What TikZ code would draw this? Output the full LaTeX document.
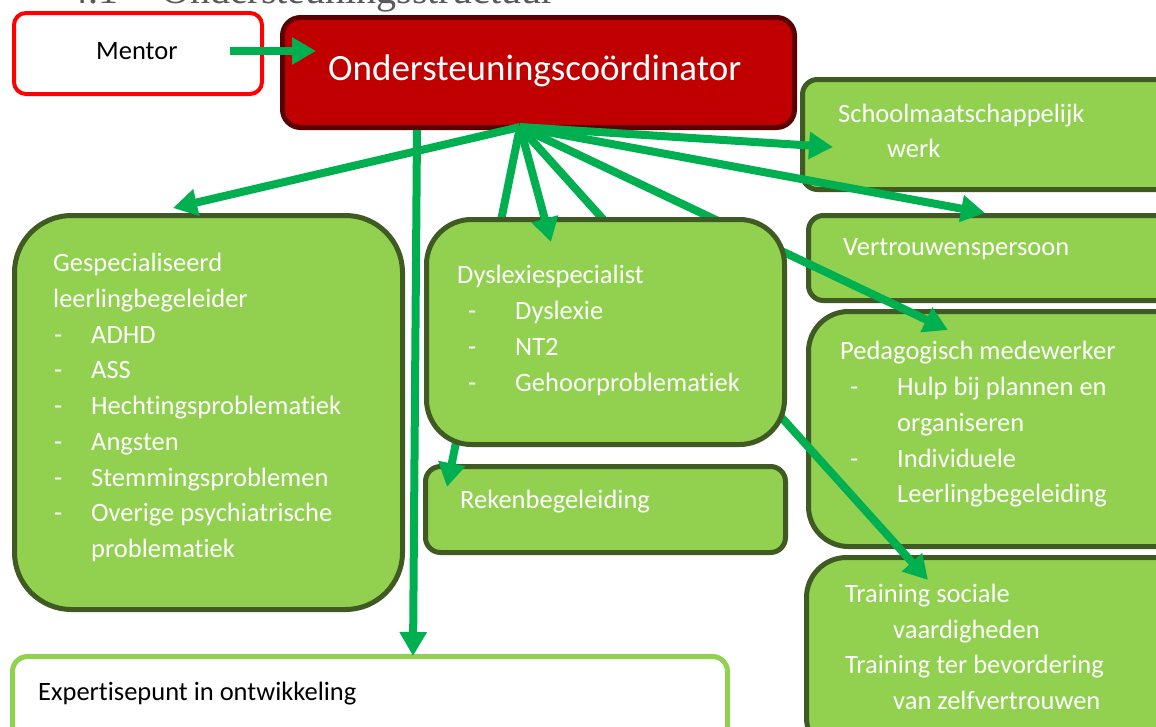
\documentclass[tikz,border=0pt]{standalone}
\usepackage{fontspec}
\setmainfont{Carlito}[Ligatures=NoCommon]
\newfontfamily\headfont{Liberation Serif}
\usetikzlibrary{arrows.meta}
\definecolor{boxgreen}{HTML}{92D050}
\definecolor{boxedge}{HTML}{3F5A22}
\definecolor{arrowgreen}{HTML}{00B050}
\definecolor{coordfill}{HTML}{C00000}
\definecolor{coordedge}{HTML}{5A0000}
\definecolor{headgray}{HTML}{595959}
\tikzset{
  box/.style={draw=boxedge, fill=boxgreen, line width=5pt, inner sep=0pt, anchor=north west, shape=rectangle},
  txt/.style={anchor=base west, inner sep=0pt, text=white, font=\fontsize{26.5}{32}\selectfont},
  btxt/.style={txt, text=black},
  arr/.style={draw=arrowgreen, line width=8pt, -{Triangle[length=24pt,width=26pt]}},
}
\begin{document}
\begin{tikzpicture}[x=1pt,y=-1pt]
\useasboundingbox (0,0) rectangle (1156,726);
\clip (0,0) rectangle (1156,726);
\fill[white] (0,0) rectangle (1156,726);

% cut-off heading
\node[anchor=base west, inner sep=0pt, text=headgray, font=\headfont\fontsize{40}{44}\selectfont] (hnum) at (68,3) {4.1};
\node[anchor=base west, inner sep=0pt, text=headgray, font=\headfont\fontsize{40}{44}\selectfont] (htitle) at (161,3) {Ondersteuningsstructuur};

% boxes
\node[box, draw=red, fill=white, line width=4pt, rounded corners=12pt, minimum width=248pt, minimum height=81pt] (mentor) at (12,11) {};
\node[box, draw=coordedge, fill=coordfill, rounded corners=18pt, minimum width=512pt, minimum height=110pt] (coord) at (280,15) {};
\node[box, rounded corners=15pt, minimum width=400pt, minimum height=110pt] (smw) at (800,77) {};
\node[box, rounded corners=15pt, minimum width=400pt, minimum height=85pt] (vertr) at (806,213) {};
\node[box, rounded corners=40pt, minimum width=400pt, minimum height=235pt] (ped) at (806,309) {};
\node[box, rounded corners=40pt, minimum width=400pt, minimum height=200pt] (train) at (804,555) {};
\node[box, rounded corners=57pt, minimum width=388pt, minimum height=394pt] (gesp) at (12,213) {};
\node[box, rounded corners=15pt, minimum width=360pt, minimum height=86pt] (reken) at (423,464) {};
\node[box, draw=boxgreen, fill=white, rounded corners=15pt, minimum width=715pt, minimum height=100pt] (exp) at (10,654) {};

% connector points
\coordinate (hub) at (520,127);
\coordinate (vtop) at (417,130);
\coordinate (mstart) at (230,51);
\coordinate (tmentor) at (316,51);
\coordinate (tgesp) at (173,208);
\coordinate (tdys) at (551,242);
\coordinate (treken) at (447,487);
\coordinate (tped) at (948,330);
\coordinate (ttrain) at (928,580);
\coordinate (tsmw) at (833,147);
\coordinate (tvertr) at (985,213);
\coordinate (texp) at (413,656);

% arrows passing behind the Dyslexie box
\draw[arr] (hub) -- (treken);
\draw[arr] (hub) -- (tped);
\draw[arr] (hub) -- (ttrain);

\node[box, rounded corners=45pt, minimum width=358pt, minimum height=225pt] (dys) at (424,217) {};

% texts
\node[btxt] (tmen) at (96,59) {Mentor};
\node[txt, font=\fontsize{37}{44}\selectfont] (tcoord) at (328,80) {Ondersteuningscoördinator};

\node[txt] (g1) at (53,271) {Gespecialiseerd};
\node[txt] (g2) at (53,307) {leerlingbegeleider};
\foreach \i/\y/\t in {3/343/ADHD, 4/378/ASS, 5/414/Hechtingsproblematiek, 6/450/Angsten, 7/486/Stemmingsproblemen, 8/521/Overige psychiatrische}{
  \node[txt] (gd\i) at (54,\y) {-};
  \node[txt] (g\i) at (91,\y) {\t};
}
\node[txt] (g9) at (91,557) {problematiek};

\node[txt] (d1) at (457,283) {Dyslexiespecialist};
\foreach \i/\y/\t in {2/319/Dyslexie, 3/355/NT2, 4/391/Gehoorproblematiek}{
  \node[txt] (dd\i) at (468,\y) {-};
  \node[txt] (d\i) at (515,\y) {\t};
}
\node[txt] (r1) at (460,508) {Rekenbegeleiding};
\node[txt] (s1) at (838,122) {Schoolmaatschappelijk};
\node[txt] (s2) at (887,157) {werk};
\node[txt] (v1) at (843,255) {Vertrouwenspersoon};
\node[txt] (p1) at (840,359) {Pedagogisch medewerker};
\node[txt] (pd2) at (850,395) {-};
\node[txt] (p2) at (897,395) {Hulp bij plannen en};
\node[txt] (p3) at (897,431) {organiseren};
\node[txt] (pd4) at (850,467) {-};
\node[txt] (p4) at (897,467) {Individuele};
\node[txt] (p5) at (897,502) {Leerlingbegeleiding};
\node[txt] (tr1) at (845,602) {Training sociale};
\node[txt] (tr2) at (893,638) {vaardigheden};
\node[txt] (tr3) at (845,673) {Training ter bevordering};
\node[txt] (tr4) at (893,709) {van zelfvertrouwen};
\node[btxt] (e1) at (38,700) {Expertisepunt in ontwikkeling};

% arrows on top
\draw[arr] (vtop) -- (texp);
\draw[arr] (hub) -- (tgesp);
\draw[arr] (hub) -- (tdys);
\draw[arr] (hub) -- (tsmw);
\draw[arr] (hub) -- (tvertr);
\draw[arr] (mstart) -- (tmentor);
\end{tikzpicture}
\end{document}
